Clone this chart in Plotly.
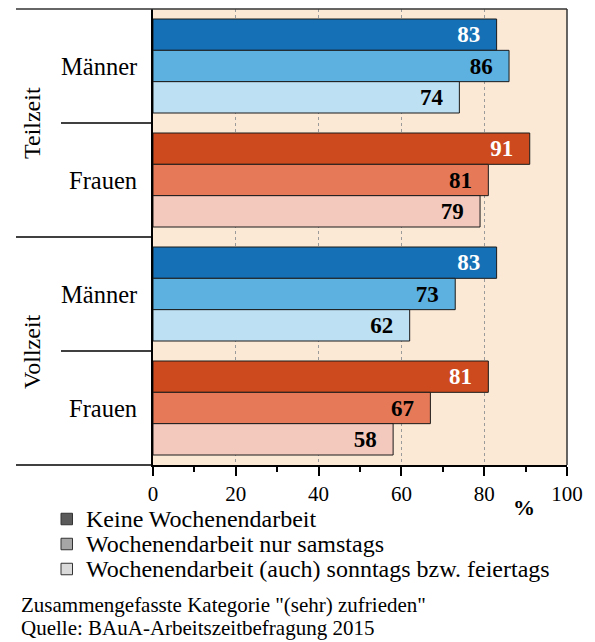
import plotly.graph_objects as go

# ---- data ----
groups = ["Teilzeit Männer", "Teilzeit Frauen", "Vollzeit Männer", "Vollzeit Frauen"]
group_labels = ["Männer", "Frauen", "Männer", "Frauen"]
sections = ["Teilzeit", "Vollzeit"]
series_names = ["Keine Wochenendarbeit",
                "Wochenendarbeit nur samstags",
                "Wochenendarbeit (auch) sonntags bzw. feiertags"]
keine = [83, 91, 83, 81]
samstags = [86, 81, 73, 67]
sonntags = [74, 79, 62, 58]
x_ticks = [0, 20, 40, 60, 80, 100]
footnotes = ['Zusammengefasste Kategorie "(sehr) zufrieden"',
             "Quelle: BAuA-Arbeitszeitbefragung 2015"]

# ---- styles ----
men_colors = ["#1570B5", "#5CB1E0", "#BEE0F3"]
women_colors = ["#CC4A1E", "#E67A58", "#F4C9BD"]
legend_colors = ["#5A5A5A", "#A6A6A6", "#DADADA"]
label_colors = ["white", "black", "black"]
FONT = "Liberation Serif"

OFF = 8  # browser body margin
W, H = 595 - OFF, 642 - OFF
# plot area in page pixels
L, R, T, B = 153, 567, 9, 465


def px(xpage):
    return (xpage - L) / (R - L)


def py(ypage):
    return 1 - (ypage - T) / (B - T)


fig = go.Figure()
values = [keine, samstags, sonntags]
for i, (name, vals) in enumerate(zip(series_names, values)):
    cols = [men_colors[i] if "Männer" in g else women_colors[i] for g in groups]
    fig.add_trace(go.Bar(
        y=groups, x=vals, orientation="h", name=name, showlegend=False,
        marker=dict(color=cols, line=dict(color="#1A1A1A", width=1)),
        text=[f"<b>{v}</b>\u00a0\u00a0\u200a" for v in vals],
        textposition="inside", insidetextanchor="end",
        textfont=dict(family=FONT, size=23, color=label_colors[i]),
        constraintext="none", cliponaxis=False,
    ))

fig.update_layout(
    width=W, height=H,
    margin=dict(l=L - OFF, r=W - (R - OFF), t=T - OFF, b=H - (B - OFF), pad=0),
    paper_bgcolor="white", plot_bgcolor="#FBE9D6",
    barmode="group", bargap=20 / 114, bargroupgap=0,
    font=dict(family=FONT, size=21, color="black"),
    showlegend=False,
)
fig.update_xaxes(
    range=[0, 100], tickvals=x_ticks, ticks="outside", ticklen=9, tickwidth=1.5,
    tickcolor="black", showline=True, linewidth=2, linecolor="black",
    showgrid=True, gridcolor="#9A9A9A", griddash="dot", gridwidth=1,
    tickfont=dict(family=FONT, size=21),
    minor=dict(dtick=10, ticks="outside", ticklen=5, tickcolor="black", showgrid=False),
    zeroline=False,
)
fig.update_yaxes(
    categoryorder="array", categoryarray=groups, autorange="reversed",
    showticklabels=False, showline=True, linewidth=2, linecolor="black",
    ticks="", showgrid=False, zeroline=False,
)

shapes = []
# top and right frame
shapes.append(dict(type="line", xref="paper", yref="paper", x0=px(16), x1=1, y0=1, y1=1,
                   line=dict(color="#333333", width=1.5)))
shapes.append(dict(type="line", xref="paper", yref="paper", x0=1, x1=1, y0=0, y1=1,
                   line=dict(color="#333333", width=1.5)))
for yy in [0.5, 0]:
    shapes.append(dict(type="line", xref="paper", yref="paper", x0=px(16), x1=0, y0=yy, y1=yy,
                       line=dict(color="black", width=1.5)))
for yy in [0.75, 0.25]:
    shapes.append(dict(type="line", xref="paper", yref="paper", x0=px(61), x1=0, y0=yy, y1=yy,
                       line=dict(color="black", width=1.5)))

ann = []
# manual legend (gray squares)
leg_y = [519, 544, 569]
for name, col, yc in zip(series_names, legend_colors, leg_y):
    shapes.append(dict(type="rect", xref="paper", yref="paper",
                       x0=px(61), x1=px(72.5), y0=py(yc - 5.75), y1=py(yc + 5.75),
                       fillcolor=col, line=dict(color="#333333", width=1)))
    ann.append(dict(x=px(84), y=py(yc), xref="paper", yref="paper", text=name,
                    showarrow=False, xanchor="left", yanchor="middle",
                    font=dict(family=FONT, size=24)))
fig.update_layout(shapes=shapes)

for g, lab in zip(groups, group_labels):
    ann.append(dict(x=px(139), y=g, xref="paper", yref="y", text=lab, showarrow=False,
                    xanchor="right", yanchor="middle", font=dict(family=FONT, size=24.5)))
for s, yy in zip(sections, [0.75, 0.25]):
    ann.append(dict(x=px(32), y=yy, xref="paper", yref="paper", text=s, showarrow=False,
                    textangle=-90, xanchor="center", yanchor="middle",
                    font=dict(family=FONT, size=24)))
ann.append(dict(x=px(524), y=py(507), xref="paper", yref="paper", text="<b>%</b>",
                showarrow=False, xanchor="center", yanchor="middle",
                font=dict(family=FONT, size=22)))
for txt, yc in zip(footnotes, [605, 628]):
    ann.append(dict(x=px(19), y=py(yc), xref="paper", yref="paper", text=txt,
                    showarrow=False, xanchor="left", yanchor="middle",
                    font=dict(family=FONT, size=21)))
fig.update_layout(annotations=ann)

fig.write_html("out.html")
